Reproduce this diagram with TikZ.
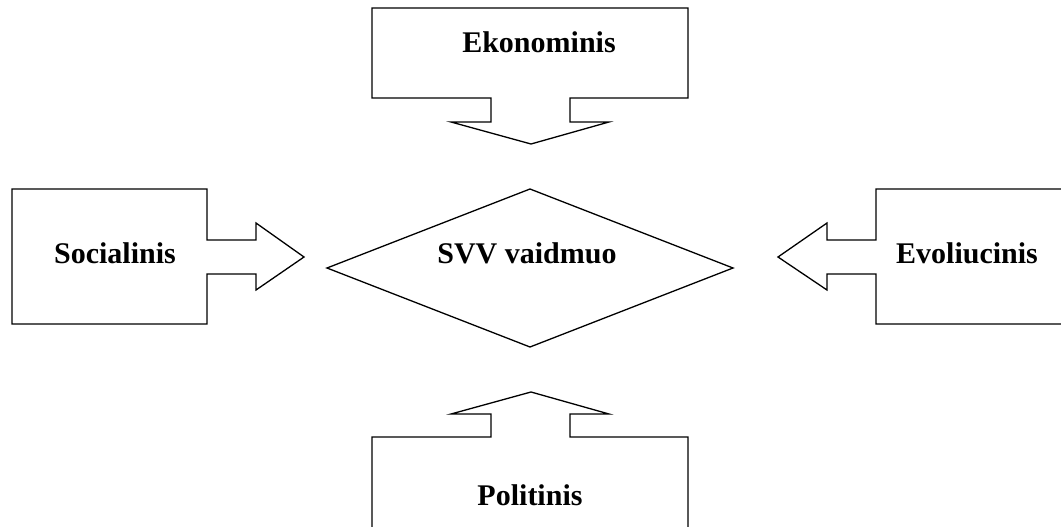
\documentclass[tikz,border=0pt]{standalone}
\usepackage{fontspec}
\setmainfont{Liberation Serif}
\usepackage{tikz}
\tikzstyle{blockarrow}=[draw=black, line width=1.3pt, line join=miter, fill=white]
\tikzstyle{lbl}=[font=\fontsize{30}{34}\selectfont\bfseries, inner sep=0pt]

\begin{document}
\begin{tikzpicture}[x=1pt, y=-1pt]
    \useasboundingbox (0,0) rectangle (1061,527);
    \clip (0,0) rectangle (1061,527);
    % top: down arrow
    \draw[blockarrow] (372,8) -- (688,8) -- (688,98) -- (570,98) -- (570,122)
      -- (609,122) -- (531,144) -- (451,122) -- (491,122) -- (491,98)
      -- (372,98) -- cycle;
    % bottom: up arrow
    \draw[blockarrow] (372,545) -- (372,437) -- (491,437) -- (491,414)
      -- (451,414) -- (531,392) -- (609,414) -- (570,414) -- (570,437)
      -- (688,437) -- (688,545);
    % left: right arrow
    \draw[blockarrow] (12,189) -- (207,189) -- (207,240) -- (256,240) -- (256,223)
      -- (304,257) -- (256,290) -- (256,274) -- (207,274) -- (207,324)
      -- (12,324) -- cycle;
    % right: left arrow
    \draw[blockarrow] (1075,189) -- (876,189) -- (876,240) -- (827,240) -- (827,223)
      -- (778,257) -- (827,290) -- (827,274) -- (876,274) -- (876,324)
      -- (1075,324);
    % centre diamond
    \draw[blockarrow] (530,189) -- (733,268) -- (530,347) -- (327,268) -- cycle;

    \node[lbl] (eko) at (539,42) {Ekonominis};
    \node[lbl] (soc) at (115,253) {Socialinis};
    \node[lbl] (evo) at (967,253) {Evoliucinis};
    \node[lbl] (pol) at (530,495) {Politinis};
    \node[lbl] (svv) at (527,253) {SVV vaidmuo};
\end{tikzpicture}
\end{document}
